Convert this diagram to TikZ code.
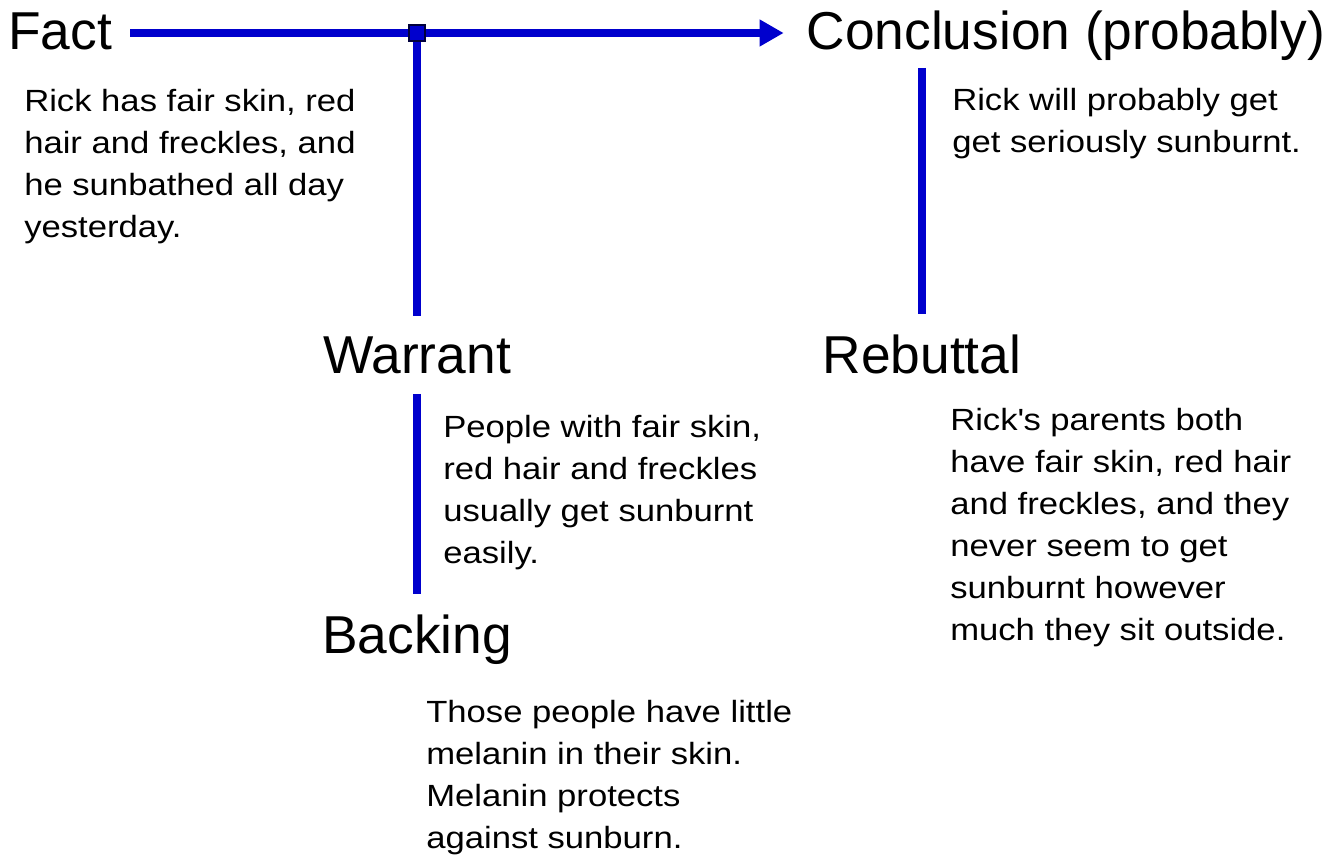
\documentclass[tikz,border=0pt]{standalone}
\usepackage{fontspec}
\usepackage{tikz}
\usetikzlibrary{positioning, arrows.meta}
\setmainfont{Liberation Sans}
\newfontfamily\bodyfont{Liberation Sans}[FakeStretch=1.13]
\definecolor{linkblue}{RGB}{0,0,205}
\definecolor{jointedge}{RGB}{0,0,60}

\begin{document}
\begin{tikzpicture}[
  x=0.75pt, y=-0.75pt,
  head/.style={font=\fontsize{40}{48}\selectfont, inner xsep=0pt, inner ysep=15pt},
  txt/.style={font=\bodyfont\fontsize{23}{31.5}\selectfont, align=left, inner sep=0pt, anchor=base west},
  link/.style={draw=linkblue, line width=6pt},
  arr/.style={link, -{Triangle[length=18pt, width=19pt]}},
  joint/.style={draw=jointedge, fill=linkblue, line width=1.2pt, minimum size=12pt, inner sep=0pt}
]
\useasboundingbox (0,0) rectangle (1333,855);

% headings
\node[head, anchor=base, inner xsep=13.5pt] (fact) at (60,50) {Fact};
\node[head, anchor=base, inner xsep=17pt, inner ysep=5pt] (concl) at (1066,50) {Conclusion (probably)};
\node[head, anchor=base] (warrant) at (417,373) {Warrant};
\node[head, anchor=base] (rebut) at (922,373) {Rebuttal};
\node[head, anchor=base] (backing) at (417,653) {Backing};

% texts (anchored on the baseline of their last line)
\node[txt] (facttxt) at (24,238) {Rick has fair skin, red\\hair and freckles, and\\he sunbathed all day\\yesterday.};
\node[txt] (concltxt) at (952,153) {Rick will probably get\\get seriously sunburnt.};
\node[txt] (warranttxt) at (443,563) {People with fair skin,\\red hair and freckles\\usually get sunburnt\\easily.};
\node[txt] (rebuttxt) at (950,640) {Rick\textquotesingle s parents both\\have fair skin, red hair\\and freckles, and they\\never seem to get\\sunburnt however\\much they sit outside.};
\node[txt] (backingtxt) at (426,848) {Those people have little\\melanin in their skin.\\Melanin protects\\against sunburn.};

% connectors
\coordinate (jn) at (417,33);
\draw[arr] (fact.east |- jn) -- (concl.west |- jn);
\draw[link] (jn) -- (warrant);
\draw[link] (warrant) -- (backing);
\draw[link] (concl.south -| rebut) -- (rebut);
\node[joint] (jbox) at (jn) {};
\end{tikzpicture}
\end{document}
